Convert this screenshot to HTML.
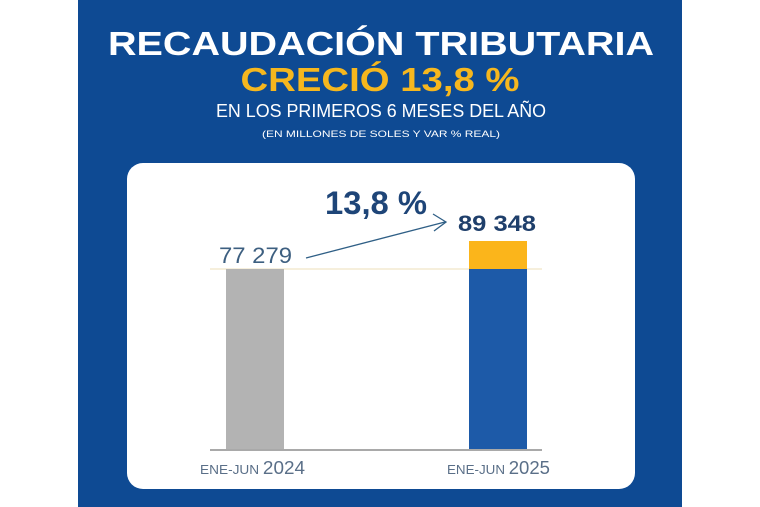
<!DOCTYPE html>
<html><head><meta charset="utf-8"><style>
html,body{margin:0;padding:0;background:#fff;}
svg{display:block;}
</style></head><body>
<svg width="760" height="507" viewBox="0 0 760 507" xmlns="http://www.w3.org/2000/svg">
<rect x="0" y="0" width="760" height="507" fill="#fff"/>
<rect x="78" y="0" width="604" height="507" fill="#0e4a93"/>
<g font-family="Liberation Sans, sans-serif" text-anchor="middle">
<text x="381" y="55" font-size="33" font-weight="bold" fill="#fff" textLength="546" lengthAdjust="spacingAndGlyphs">RECAUDACIÓN TRIBUTARIA</text>
<text x="380" y="91" font-size="33" font-weight="bold" fill="#f6b71e" textLength="279" lengthAdjust="spacingAndGlyphs">CRECIÓ 13,8 %</text>
<text x="381" y="117" font-size="18" fill="#fff" textLength="330" lengthAdjust="spacingAndGlyphs">EN LOS PRIMEROS 6 MESES DEL AÑO</text>
<text x="381" y="137" font-size="9" fill="#fff" textLength="238" lengthAdjust="spacingAndGlyphs">(EN MILLONES DE SOLES Y VAR % REAL)</text>
</g>
<rect x="127" y="163" width="508" height="326" rx="16" fill="#fff"/>
<line x1="210" y1="269" x2="542" y2="269" stroke="#f3ead0" stroke-width="1.5"/>
<rect x="226" y="269" width="58" height="181" fill="#b3b3b3"/>
<rect x="469" y="241" width="58" height="28" fill="#fbb51b"/>
<rect x="469" y="269" width="58" height="181" fill="#1d5aa8"/>
<line x1="210" y1="450" x2="542" y2="450" stroke="#a9a9a9" stroke-width="2"/>
<g font-family="Liberation Sans, sans-serif" fill="#2c4a70">
<text x="219" y="263" font-size="22" fill="#3d5f80" textLength="73" lengthAdjust="spacingAndGlyphs">77 279</text>
<text x="458" y="231" font-size="22" font-weight="bold" fill="#1f3f6b" textLength="78" lengthAdjust="spacingAndGlyphs">89 348</text>
<text x="325" y="214" font-size="32" font-weight="bold" fill="#1e4578" textLength="102" lengthAdjust="spacingAndGlyphs">13,8 %</text>
<text x="200" y="474" font-size="13" fill="#5a6f88" textLength="105" lengthAdjust="spacingAndGlyphs">ENE-JUN <tspan font-size="18">2024</tspan></text>
<text x="447" y="474" font-size="13" fill="#5a6f88" textLength="103" lengthAdjust="spacingAndGlyphs">ENE-JUN <tspan font-size="18">2025</tspan></text>
</g>
<line x1="306" y1="258" x2="445" y2="222" stroke="#2f5f86" stroke-width="1.3"/>
<polyline points="433,214 446,222 434,231" fill="none" stroke="#2f5f86" stroke-width="1.3"/>
</svg>
</body></html>
